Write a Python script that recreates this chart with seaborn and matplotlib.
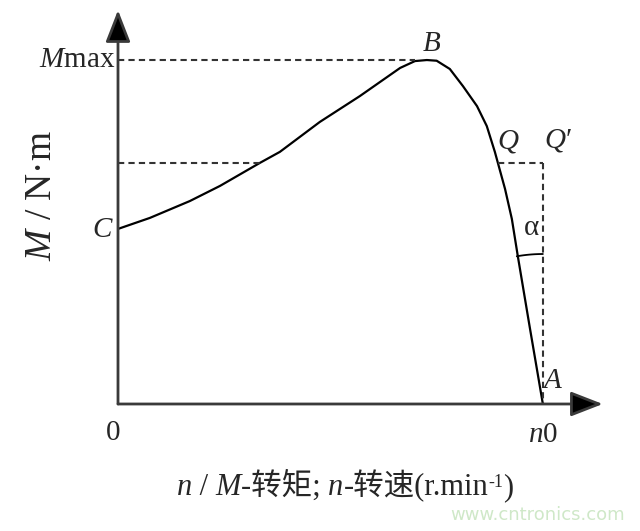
import numpy as np
import pandas as pd
import seaborn as sns
import matplotlib.pyplot as plt

# torque-speed curve (n in units of n0, M in units of Mmax)
speed = [0.0, 0.075, 0.169, 0.24, 0.334, 0.381, 0.475, 0.569, 0.664, 0.699, 0.727,
         0.75, 0.781, 0.812, 0.845, 0.868, 0.887, 0.911, 0.927, 0.941, 0.969, 1.0]
torque = [0.509, 0.541, 0.590, 0.634, 0.701, 0.733, 0.820, 0.895, 0.977, 0.997, 1.0,
          0.998, 0.974, 0.924, 0.866, 0.808, 0.733, 0.625, 0.538, 0.430, 0.224, 0.0]
m_max = 1.0
m_q = 0.701
n_q = 0.894
n0 = 1.0

sns.set_style("white")
plt.rcParams["font.family"] = ["Liberation Serif", "Noto Sans CJK SC"]
plt.rcParams["mathtext.fontset"] = "custom"
plt.rcParams["mathtext.rm"] = "Liberation Serif"
plt.rcParams["mathtext.it"] = "Liberation Serif:italic"

fig = plt.figure(figsize=(6.4, 5.31), dpi=100)
ax = fig.add_axes([118 / 640, 127 / 531, 492 / 640, 399 / 531])
ax.set_xlim(0, 1.158)
ax.set_ylim(0, 1.16)
ax.axis("off")

df = pd.DataFrame({"n": speed, "M": torque})
sns.lineplot(data=df, x="n", y="M", color="black", lw=1.6, sort=False, ax=ax)

dash = dict(color="#333333", lw=1.5, ls=(0, (3, 2)))
ax.plot([0, 0.70], [m_max, m_max], **dash)
ax.plot([0, 0.334], [m_q, m_q], **dash)
ax.plot([n_q, n0], [m_q, m_q], **dash)
ax.plot([n0, n0], [m_q, 0], **dash)

# angle arc at A between the curve and the vertical
t = np.linspace(np.deg2rad(90), np.deg2rad(100), 20)
r = 150
ax.plot(n0 + r / 425 * np.cos(t), r / 344 * np.sin(t), color="black", lw=1.3)

# axes with arrows
arrow = dict(arrowstyle="-|>,head_length=0.9,head_width=0.35", color="#3a3a3a",
             lw=2, mutation_scale=22, shrinkA=0, shrinkB=0)
ax.annotate("", xy=(1.141, 0), xytext=(0, 0), arrowprops=dict(arrow, fc="black"),
            annotation_clip=False)
ax.annotate("", xy=(0, 1.145), xytext=(0, 0), arrowprops=dict(arrow, fc="black"),
            annotation_clip=False)

fs = 21
ax.text(-0.007, m_max, "$M$max", fontsize=fs, ha="right", va="center")
ax.text(-0.035, 0.506, "$C$", fontsize=fs, ha="center", va="center")
ax.text(0.739, 1.047, "$B$", fontsize=fs, ha="center", va="center")
ax.text(0.918, 0.762, "$Q$", fontsize=fs, ha="center", va="center")
ax.text(1.035, 0.767, "$Q$\u2032", fontsize=fs, ha="center", va="center")
ax.text(0.974, 0.512, "α", fontsize=fs, ha="center", va="center")
ax.text(1.024, 0.067, "$A$", fontsize=fs, ha="center", va="center")
ax.text(-0.012, -0.084, "0", fontsize=fs, ha="center", va="center")
ax.text(n0, -0.09, "$n$0", fontsize=fs, ha="center", va="center")

# x label built from pieces so the Chinese glyphs can fall back to the CJK font
pieces = [("n", "italic", 22, 0), (" / ", "normal", 22, 0), ("M", "italic", 22, 0),
          ("-转矩; ", "normal", 22, 0), ("n", "italic", 22, 0),
          ("-转速(r.min", "normal", 22, 0), ("-1", "normal", 13, 8), (")", "normal", 22, 0)]
fig.canvas.draw()
renderer = fig.canvas.get_renderer()
texts = []
widths = []
for s, style, size, dy in pieces:
    tx = fig.text(0, 0, s, fontsize=size, style=style, va="baseline", ha="left")
    texts.append((tx, dy))
    widths.append(tx.get_window_extent(renderer).width)
x_px = 345 - sum(widths) / 2
base_px = 531 - 495
for (tx, dy), w in zip(texts, widths):
    tx.set_position((x_px / 640, (base_px + dy) / 531))
    x_px += w

fig.text(42 / 640, 1 - 195 / 531, "$M$ / N·m", fontsize=27, ha="center",
         va="center", rotation=90)
fig.text(538 / 640, 1 - 515 / 531, "www.cntronics.com", fontsize=13,
         color="#cfe8c8", family="DejaVu Sans", ha="center", va="center")

fig.savefig("out.png", dpi=100)
